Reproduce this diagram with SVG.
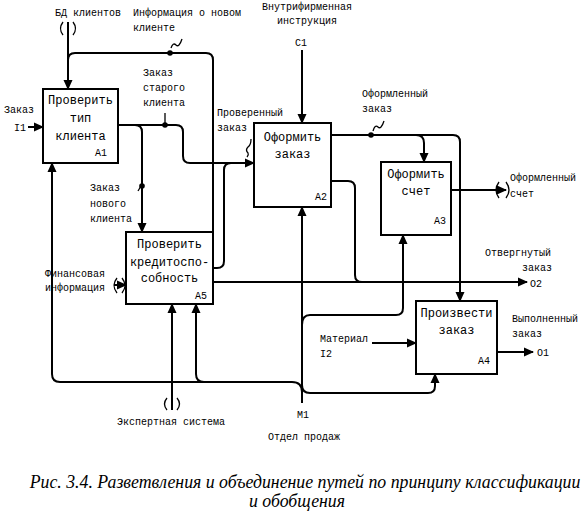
<svg xmlns="http://www.w3.org/2000/svg" width="587" height="526" viewBox="0 0 587 526">
<style>
.box{fill:#fff;stroke:#000;stroke-width:2}
.ln{fill:none;stroke:#000;stroke-width:2}
.thin{fill:none;stroke:#000;stroke-width:1.3}
.t{font-family:"Liberation Mono","DejaVu Sans Mono",monospace;font-size:12px;fill:#000}
.s{font-family:"Liberation Mono","DejaVu Sans Mono",monospace;font-size:10px;fill:#000}
.cap{font-family:"Liberation Serif","Times New Roman",serif;font-style:italic;font-size:17.8px;fill:#000}
.m{text-anchor:middle}
</style>
<defs>
<marker id="ar" markerUnits="userSpaceOnUse" markerWidth="10" markerHeight="10" viewBox="0 0 10 10" refX="9" refY="5" orient="auto">
<path d="M0,0.5 L10,5 L0,9.5 z" fill="#000"/>
</marker>
</defs>
<rect width="587" height="526" fill="#fff"/>

<g id="connectors">
<path class="ln" d="M68,22 V89" marker-end="url(#ar)"/>
<path class="thin" d="M63,22 Q58,28.5 63,35 M73,22 Q78,28.5 73,35"/>
<path class="ln" d="M213,240 V60 Q213,53 206,53 H75 Q68,53 68,60"/>
<circle cx="170" cy="53" r="2.8"/>
<path class="thin" d="M171,48 q2,-6 5,-3 t6,-6"/>
<path class="ln" d="M28,127 H43" marker-end="url(#ar)"/>
<path class="ln" d="M118,125 H135 Q142,125 142,132 V232" marker-end="url(#ar)"/>
<path class="ln" d="M135,125 H176 Q183,125 183,132 V156 Q183,163 190,163 H254" marker-end="url(#ar)"/>
<circle cx="165" cy="125" r="2.8"/>
<path class="thin" d="M165,113 V124"/>
<circle cx="142" cy="186" r="2.8"/>
<path class="thin" d="M138,191 L141,186"/>
<path class="ln" d="M213,268 H217 Q224,268 224,261 V170 Q224,163 231,163 H240"/>
<path class="thin" d="M251,139 q0,6 -3,8 q-3,3 0,6 q1,2 -1,4"/>
<path class="ln" d="M213,282 H527" marker-end="url(#ar)"/>
<path class="ln" d="M331,181 H348 Q355,181 355,188 V275 Q355,282 362,282"/>
<path class="ln" d="M331,135 H453 Q460,135 460,142 V301" marker-end="url(#ar)"/>
<path class="ln" d="M416,135 Q424,135 424,143 V162" marker-end="url(#ar)"/>
<circle cx="371" cy="135" r="2.8"/>
<path class="thin" d="M373,131 q2,-7 5,-4 t6,-6"/>
<path class="ln" d="M451,190 H506" marker-end="url(#ar)"/>
<path class="thin" d="M499,182 Q493,190 499,198 M506,182 Q512,190 506,198"/>
<path class="ln" d="M302,50 V123" marker-end="url(#ar)"/>
<path class="ln" d="M302,403 V207" marker-end="url(#ar)"/>
<path class="ln" d="M302,392 Q302,382 292,382 H60 Q52,382 52,374 V163" marker-end="url(#ar)"/>
<path class="ln" d="M204,382 Q196,382 196,374 V304" marker-end="url(#ar)"/>
<path class="ln" d="M302,385 Q302,393 310,393 H428 Q435,393 435,386 V374" marker-end="url(#ar)"/>
<path class="ln" d="M302,325 Q302,315 310,315 H396 Q403,315 403,308 V235" marker-end="url(#ar)"/>
<path class="ln" d="M172,410 V304" marker-end="url(#ar)"/>
<path class="thin" d="M167,398 Q162,404 167,410 M177,398 Q182,404 177,410"/>
<path class="ln" d="M114,285 H126" marker-end="url(#ar)"/>
<path class="thin" d="M117,278 Q111,285.5 117,293 M122,278 Q128,285.5 122,293"/>
<path class="ln" d="M372,343 H416" marker-end="url(#ar)"/>
<path class="ln" d="M497,352 H533" marker-end="url(#ar)"/>
</g>

<g id="A1">
<rect class="box" x="43" y="89" width="75" height="74"/>
<text class="t m" x="80.5" y="104">Проверить</text>
<text class="t m" x="80.5" y="122">тип</text>
<text class="t m" x="80.5" y="140">клиента</text>
<text class="s" x="95" y="156">A1</text>
</g>
<g id="A2">
<rect class="box" x="254" y="123" width="77" height="84"/>
<text class="t m" x="292.5" y="141">Оформить</text>
<text class="t m" x="292.5" y="158">заказ</text>
<text class="s" x="315" y="200">A2</text>
</g>
<g id="A3">
<rect class="box" x="381" y="162" width="70" height="73"/>
<text class="t m" x="416" y="178">Оформить</text>
<text class="t m" x="416" y="195">счет</text>
<text class="s" x="434" y="224">A3</text>
</g>
<g id="A5">
<rect class="box" x="126" y="232" width="87" height="72"/>
<text class="t m" x="169.5" y="248">Проверить</text>
<text class="t m" x="169.5" y="266">кредитоспо-</text>
<text class="t m" x="169.5" y="282">собность</text>
<text class="s" x="195" y="299">A5</text>
</g>
<g id="A4">
<rect class="box" x="416" y="301" width="81" height="73"/>
<text class="t m" x="456.5" y="317">Произвести</text>
<text class="t m" x="456.5" y="334">заказ</text>
<text class="s" x="478" y="364">A4</text>
</g>

<g id="labels">
<text class="s" x="55" y="16">БД клиентов</text>
<text class="s" x="133" y="16">Информация о новом</text>
<text class="s" x="133" y="31">клиенте</text>
<text class="s" x="262" y="10">Внутрифирменная</text>
<text class="s" x="277" y="24">инструкция</text>
<text class="s" x="295" y="46">C1</text>
<text class="s" x="143" y="76">Заказ</text>
<text class="s" x="143" y="91">старого</text>
<text class="s" x="143" y="106">клиента</text>
<text class="s" x="217" y="116">Проверенный</text>
<text class="s" x="217" y="131">заказ</text>
<text class="s" x="362" y="97">Оформленный</text>
<text class="s" x="362" y="112">заказ</text>
<text class="s" x="4" y="113">Заказ</text>
<text class="s" x="14" y="131">I1</text>
<text class="s" x="90" y="191">Заказ</text>
<text class="s" x="90" y="207">нового</text>
<text class="s" x="90" y="222">клиента</text>
<text class="s" x="510" y="181">Оформленный</text>
<text class="s" x="510" y="197">счет</text>
<text class="s" x="485" y="256">Отвергнутый</text>
<text class="s" x="522" y="271">заказ</text>
<text class="s" x="530" y="287">O2</text>
<text class="s" x="45" y="277">Финансовая</text>
<text class="s" x="45" y="291">информация</text>
<text class="s" x="512" y="322">Выполненный</text>
<text class="s" x="512" y="337">заказ</text>
<text class="s" x="537" y="356">O1</text>
<text class="s" x="320" y="342">Материал</text>
<text class="s" x="320" y="357">I2</text>
<text class="s" x="117" y="425">Экспертная система</text>
<text class="s" x="297" y="418">M1</text>
<text class="s" x="268" y="440">Отдел продаж</text>
<text class="cap m" x="305" y="488">Рис. 3.4. Разветвления и объединение путей по принципу классификации</text>
<text class="cap m" x="297" y="507">и обобщения</text>
</g>
</svg>
